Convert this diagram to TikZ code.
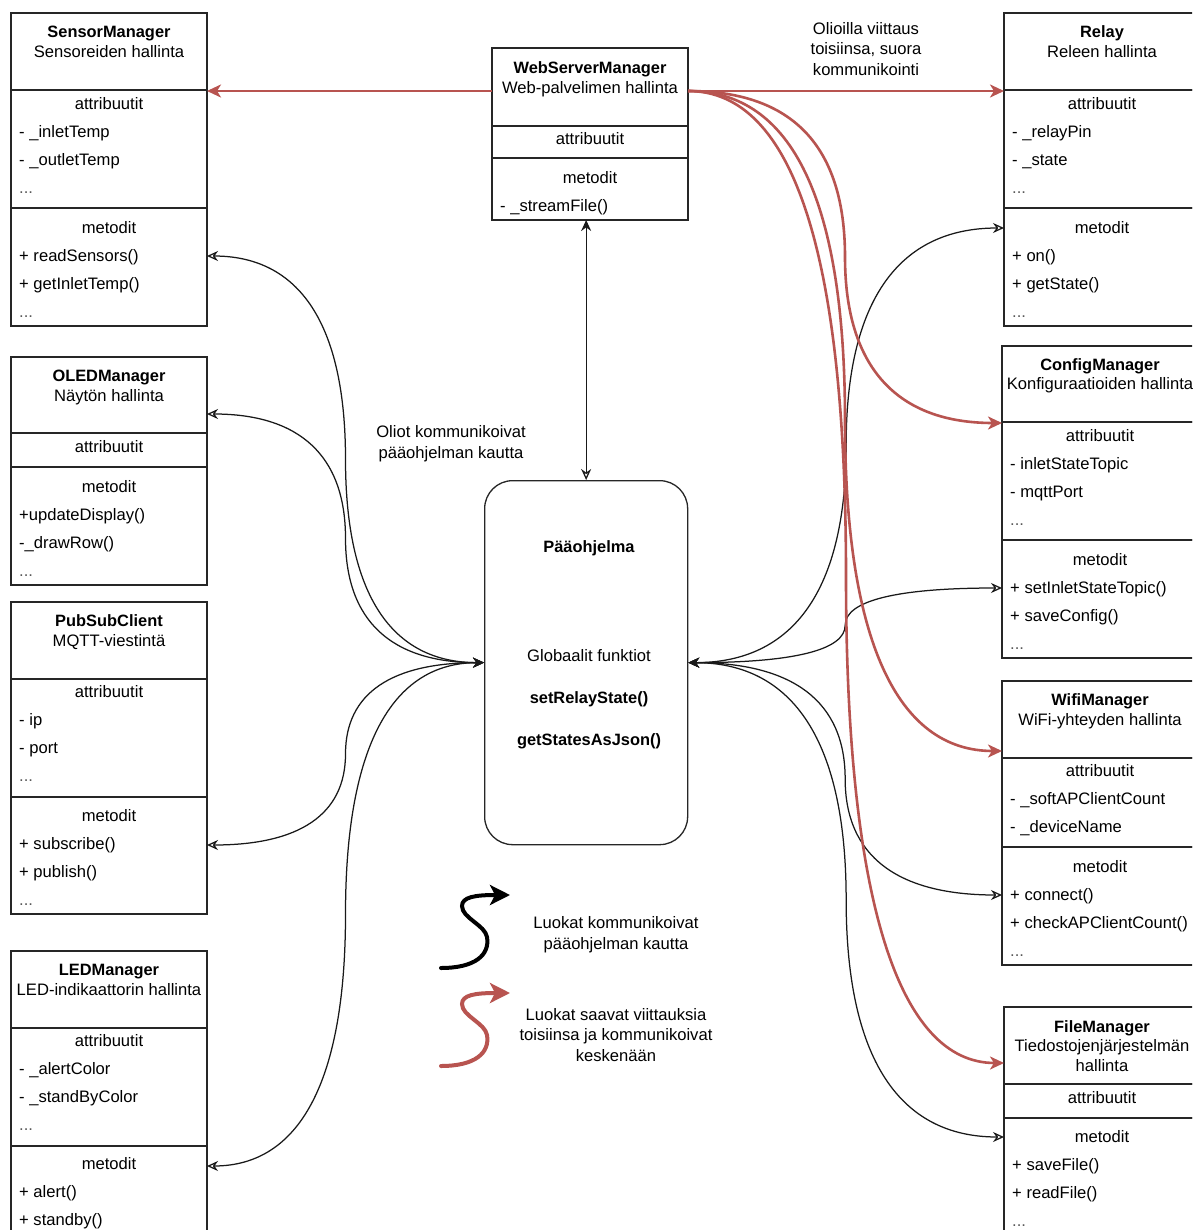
\documentclass[tikz,border=0pt]{standalone}
\usepackage{fontspec}
\setmainfont{Liberation Sans}
\usetikzlibrary{arrows.meta,calc}
\definecolor{relred}{HTML}{B85450}
\begin{document}
\begin{tikzpicture}[x=1pt,y=-1pt,
  umlbox/.style={draw=black!85, line width=1.3pt, minimum width=196pt,
    anchor=north west, inner sep=0pt, outer sep=0pt},
  ctr/.style={font=\fontsize{16.6}{19}\selectfont, inner sep=0pt, anchor=base, yshift=-5.5pt},
  ttl/.style={ctr, font=\fontsize{16.4}{19}\selectfont\bfseries},
  lft/.style={ctr, anchor=base west},
  dts/.style={lft, text=black!65},
  blk/.style={draw=black!90, line width=1.25pt,
    arrows={Stealth[open,length=11pt,width=10pt]-Stealth[length=11pt,width=10pt]}},
  rel/.style={draw=relred, line width=2.6pt,
    arrows={-Stealth[length=14pt,width=13pt,inset=4pt]}},
  legarrow/.style={line width=4pt, line cap=round,
    arrows={-Stealth[length=20pt,width=20pt,inset=5pt]}},
  % orthogonal route bent at mid x, smoothed with quadratic pieces
  dio/.style={to path={
    let \p1=(\tikztostart), \p2=(\tikztotarget),
        \n1={(\x1+\x2)/2}, \n2={(\y1+\y2)/2} in
    .. controls ({\x1+2/3*((\n1)-\x1)},\y1) and ({(\n1)*1pt},{(\n2)+2/3*(\y1-(\n2))})
    .. ({(\n1)*1pt},{(\n2)*1pt})
    .. controls ({(\n1)*1pt},{(\n2)+2/3*(\y2-(\n2))}) and ({\x2+2/3*((\n1)-\x2)},\y2)
    .. (\tikztotarget) \tikztonodes}}
]
\useasboundingbox (0,0) rectangle (1192,1230);
\clip (0,0) rectangle (1192,1230);
\fill[white] (0,0) rectangle (1192,1230);

% ---------- SensorManager ----------
\node[umlbox, minimum height=77pt]  (sensorH) at (11,13) {};
\node[umlbox, minimum height=118pt] (sensorA) at (11,90) {};
\node[umlbox, minimum height=118pt] (sensorM) at (11,208) {};
\node[ttl] (sensorT) at (109,32) {SensorManager};
\node[ctr] (sensorS) at (109,52) {Sensoreiden hallinta};
\node[ctr] (sensorAt) at (109,104) {attribuutit};
\node[lft] (sensorA1) at (19,132) {- \_inletTemp};
\node[lft] (sensorA2) at (19,160) {- \_outletTemp};
\node[dts] (sensorA3) at (19,188) {...};
\node[ctr] (sensorMt) at (109,228) {metodit};
\node[lft] (sensorM1) at (19,256) {+ readSensors()};
\node[lft] (sensorM2) at (19,284) {+ getInletTemp()};
\node[dts] (sensorM3) at (19,312) {...};

% ---------- OLEDManager ----------
\node[umlbox, minimum height=76pt]  (oledH) at (11,357) {};
\node[umlbox, minimum height=34pt]  (oledA) at (11,433) {};
\node[umlbox, minimum height=118pt] (oledM) at (11,467) {};
\node[ttl] (oledT) at (109,376) {OLEDManager};
\node[ctr] (oledS) at (109,396) {Näytön hallinta};
\node[ctr] (oledAt) at (109,447) {attribuutit};
\node[ctr] (oledMt) at (109,487) {metodit};
\node[lft] (oledM1) at (19,515) {+updateDisplay()};
\node[lft] (oledM2) at (19,543) {-\_drawRow()};
\node[dts] (oledM3) at (19,571) {...};

% ---------- PubSubClient ----------
\node[umlbox, minimum height=77pt]  (psH) at (11,602) {};
\node[umlbox, minimum height=118pt] (psA) at (11,679) {};
\node[umlbox, minimum height=117pt] (psM) at (11,797) {};
\node[ttl] (psT) at (109,621) {PubSubClient};
\node[ctr] (psS) at (109,641) {MQTT-viestintä};
\node[ctr] (psAt) at (109,692) {attribuutit};
\node[lft] (psA1) at (19,720) {- ip};
\node[lft] (psA2) at (19,748) {- port};
\node[dts] (psA3) at (19,776) {...};
\node[ctr] (psMt) at (109,816) {metodit};
\node[lft] (psM1) at (19,844) {+ subscribe()};
\node[lft] (psM2) at (19,872) {+ publish()};
\node[dts] (psM3) at (19,900) {...};

% ---------- LEDManager ----------
\node[umlbox, minimum height=77pt]  (ledH) at (11,951) {};
\node[umlbox, minimum height=118pt] (ledA) at (11,1028) {};
\node[umlbox, minimum height=118pt] (ledM) at (11,1146) {};
\node[ttl] (ledT) at (109,970) {LEDManager};
\node[ctr] (ledS) at (109,990) {LED-indikaattorin hallinta};
\node[ctr] (ledAt) at (109,1041) {attribuutit};
\node[lft] (ledA1) at (19,1069) {- \_alertColor};
\node[lft] (ledA2) at (19,1097) {- \_standByColor};
\node[dts] (ledA3) at (19,1125) {...};
\node[ctr] (ledMt) at (109,1164) {metodit};
\node[lft] (ledM1) at (19,1192) {+ alert()};
\node[lft] (ledM2) at (19,1220) {+ standby()};

% ---------- WebServerManager ----------
\node[umlbox, minimum height=78pt] (webH) at (492,48) {};
\node[umlbox, minimum height=32pt] (webA) at (492,126) {};
\node[umlbox, minimum height=62pt] (webM) at (492,158) {};
\node[ttl] (webT) at (590,68) {WebServerManager};
\node[ctr] (webS) at (590,88) {Web-palvelimen hallinta};
\node[ctr] (webAt) at (590,139) {attribuutit};
\node[ctr] (webMt) at (590,178) {metodit};
\node[lft] (webM1) at (500,206) {- \_streamFile()};

% ---------- Relay ----------
\node[umlbox, minimum height=77pt]  (relayH) at (1004,13) {};
\node[umlbox, minimum height=118pt] (relayA) at (1004,90) {};
\node[umlbox, minimum height=118pt] (relayM) at (1004,208) {};
\node[ttl] (relayT) at (1102,32) {Relay};
\node[ctr] (relayS) at (1102,52) {Releen hallinta};
\node[ctr] (relayAt) at (1102,104) {attribuutit};
\node[lft] (relayA1) at (1012,132) {- \_relayPin};
\node[lft] (relayA2) at (1012,160) {- \_state};
\node[dts] (relayA3) at (1012,188) {...};
\node[ctr] (relayMt) at (1102,228) {metodit};
\node[lft] (relayM1) at (1012,256) {+ on()};
\node[lft] (relayM2) at (1012,284) {+ getState()};
\node[dts] (relayM3) at (1012,312) {...};

% ---------- ConfigManager ----------
\node[umlbox, minimum height=76pt]  (cfgH) at (1002,346) {};
\node[umlbox, minimum height=118pt] (cfgA) at (1002,422) {};
\node[umlbox, minimum height=118pt] (cfgM) at (1002,540) {};
\node[ttl] (cfgT) at (1100,365) {ConfigManager};
\node[ctr] (cfgS) at (1100,384) {Konfiguraatioiden hallinta};
\node[ctr] (cfgAt) at (1100,436) {attribuutit};
\node[lft] (cfgA1) at (1010,464) {- inletStateTopic};
\node[lft] (cfgA2) at (1010,492) {- mqttPort};
\node[dts] (cfgA3) at (1010,520) {...};
\node[ctr] (cfgMt) at (1100,560) {metodit};
\node[lft] (cfgM1) at (1010,588) {+ setInletStateTopic()};
\node[lft] (cfgM2) at (1010,616) {+ saveConfig()};
\node[dts] (cfgM3) at (1010,644) {...};

% ---------- WifiManager ----------
\node[umlbox, minimum height=77pt]  (wifiH) at (1002,681) {};
\node[umlbox, minimum height=89pt]  (wifiA) at (1002,758) {};
\node[umlbox, minimum height=118pt] (wifiM) at (1002,847) {};
\node[ttl] (wifiT) at (1100,700) {WifiManager};
\node[ctr] (wifiS) at (1100,720) {WiFi-yhteyden hallinta};
\node[ctr] (wifiAt) at (1100,771) {attribuutit};
\node[lft] (wifiA1) at (1010,799) {- \_softAPClientCount};
\node[lft] (wifiA2) at (1010,827) {- \_deviceName};
\node[ctr] (wifiMt) at (1100,867) {metodit};
\node[lft] (wifiM1) at (1010,895) {+ connect()};
\node[lft] (wifiM2) at (1010,923) {+ checkAPClientCount()};
\node[dts] (wifiM3) at (1010,951) {...};

% ---------- FileManager ----------
\node[umlbox, minimum height=77pt]  (fileH) at (1004,1007) {};
\node[umlbox, minimum height=34pt]  (fileA) at (1004,1084) {};
\node[umlbox, minimum height=118pt] (fileM) at (1004,1118) {};
\node[ttl] (fileT) at (1102,1027) {FileManager};
\node[ctr] (fileS1) at (1102,1046) {Tiedostojenjärjestelmän};
\node[ctr] (fileS2) at (1102,1066) {hallinta};
\node[ctr] (fileAt) at (1102,1098) {attribuutit};
\node[ctr] (fileMt) at (1102,1137) {metodit};
\node[lft] (fileM1) at (1012,1165) {+ saveFile()};
\node[lft] (fileM2) at (1012,1193) {+ readFile()};
\node[dts] (fileM3) at (1012,1221) {...};

% ---------- main program ----------
\node[draw=black!85, line width=1.3pt, rounded corners=28pt, minimum width=203pt,
      minimum height=364pt, anchor=north west, inner sep=0pt] (main) at (484,480) {};
\node[ttl] (mainT) at (589,547) {Pääohjelma};
\node[ctr] (mainG) at (589,656) {Globaalit funktiot};
\node[ttl] (mainF1) at (589,698) {setRelayState()};
\node[ttl] (mainF2) at (589,740) {getStatesAsJson()};

% ---------- free labels ----------
\node[ctr] (lblVia1) at (451,432) {Oliot kommunikoivat};
\node[ctr] (lblVia2) at (451,453) {pääohjelman kautta};
\node[ctr] (lblRef1) at (866,29) {Olioilla viittaus};
\node[ctr] (lblRef2) at (866,49) {toisiinsa, suora};
\node[ctr] (lblRef3) at (866,70) {kommunikointi};

% ---------- connection points ----------
\coordinate (webL) at (492,91);
\coordinate (webR) at (688,91);
\coordinate (sensorR) at (207,91);
\coordinate (relayR) at (1004,91);
\coordinate (cfgR) at (1002,423);
\coordinate (wifiR) at (1002,751);
\coordinate (fileR) at (1004,1063);
\coordinate (sensorP) at (207,256);
\coordinate (oledP) at (207,414);
\coordinate (psP) at (207,845);
\coordinate (ledP) at (207,1166);
\coordinate (relayP) at (1004,228);
\coordinate (cfgP) at (1002,588);
\coordinate (wifiP) at (1002,895);
\coordinate (fileP) at (1004,1137);

% ---------- calls through the main program ----------
\draw[blk, dio] (sensorP) to (main.west);
\draw[blk, dio] (oledP) to (main.west);
\draw[blk, dio] (psP) to (main.west);
\draw[blk, dio] (ledP) to (main.west);
\draw[blk, dio] (relayP) to (main.east);
\draw[blk, dio] (cfgP) to (main.east);
\draw[blk, dio] (wifiP) to (main.east);
\draw[blk, dio] (fileP) to (main.east);
\draw[draw=black!90, line width=1.25pt,
      arrows={Stealth[length=11pt,width=10pt]-Stealth[open,length=11pt,width=10pt]}]
  (main.north |- webM.south) -- (main.north);

% ---------- direct references ----------
\draw[rel] (webL) -- (sensorR);
\draw[rel] (webR) -- (relayR);
\draw[rel, dio] (webR) to (cfgR);
\draw[rel, dio] (webR) to (wifiR);
\draw[rel, dio] (webR) to (fileR);

% ---------- legend ----------
\coordinate (legKs) at (441,968);
\coordinate (legKe) at (510,895);
\coordinate (legRs) at (441,1066);
\coordinate (legRe) at (510,993);
\draw[legarrow, black] (legKs) .. controls (475,968) and (490,955) .. (487,937)
  .. controls (485,925) and (462,918) .. (462,906)
  .. controls (462,897) and (475,895) .. (legKe);
\draw[legarrow, relred] (legRs) .. controls (475,1066) and (490,1053) .. (487,1035)
  .. controls (485,1023) and (462,1016) .. (462,1004)
  .. controls (462,995) and (475,993) .. (legRe);
\node[ctr] (legK1) at (616,923) {Luokat kommunikoivat};
\node[ctr] (legK2) at (616,944) {pääohjelman kautta};
\node[ctr] (legR1) at (616,1015) {Luokat saavat viittauksia};
\node[ctr] (legR2) at (616,1035) {toisiinsa ja kommunikoivat};
\node[ctr] (legR3) at (616,1056) {keskenään};
\end{tikzpicture}
\end{document}
